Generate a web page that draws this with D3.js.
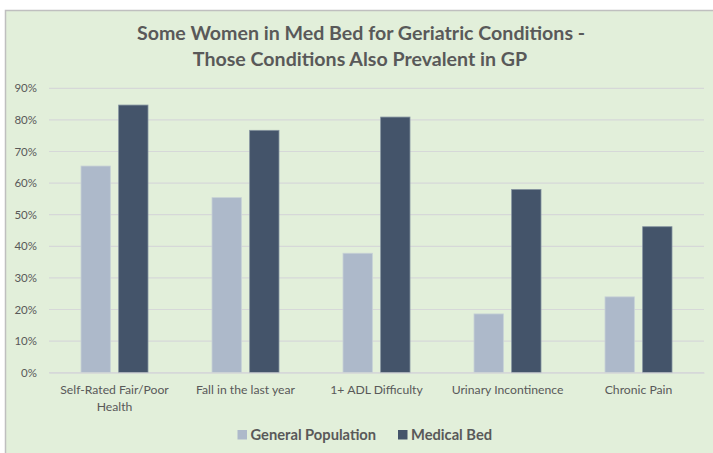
<!DOCTYPE html>
<html>
<head>
<meta charset="utf-8">
<script src="https://cdn.jsdelivr.net/npm/d3@7"></script>
<style>
  body { margin: 0; background: #fff; }
  text { font-family: Lato, "Open Sans", sans-serif; fill: #595959; }
</style>
</head>
<body>
<svg id="chart" width="713" height="453"></svg>
<script>
// data
var categories = ["Self-Rated Fair/Poor Health", "Fall in the last year", "1+ ADL Difficulty", "Urinary Incontinence", "Chronic Pain"]
var series = ["General Population", "Medical Bed"]
var generalPopulation = [0.654, 0.554, 0.378, 0.186, 0.240]
var medicalBed = [0.847, 0.767, 0.809, 0.580, 0.462]
var yTicks = [0, 0.1, 0.2, 0.3, 0.4, 0.5, 0.6, 0.7, 0.8, 0.9]

var values = [generalPopulation, medicalBed]
var color = d3.scaleOrdinal().domain(series).range(["#adb9ca", "#44546a"])
var edge = d3.scaleOrdinal().domain(series).range(["#c7d2d6", "#8593a0"])

var svg = d3.select("#chart")

// chart area background with the left/top border
svg.append("rect")
  .attr("x", 5.5).attr("y", 10.5)
  .attr("width", 713).attr("height", 453)
  .attr("fill", "#e2efda")
svg.append("path")
  .attr("d", "M5.5,453V10.5H713")
  .attr("fill", "none")
  .attr("stroke", "#bfbfbf")
  .attr("stroke-width", 1.5)

// title
svg.append("text")
  .attr("x", 361).attr("y", 40)
  .attr("text-anchor", "middle")
  .style("font-size", "19.6px").style("font-weight", "bold")
  .text("Some Women in Med Bed for Geriatric Conditions -")
svg.append("text")
  .attr("x", 360).attr("y", 65.5)
  .attr("text-anchor", "middle")
  .style("font-size", "19.6px").style("font-weight", "bold")
  .text("Those Conditions Also Prevalent in GP")

var x = d3.scaleBand().domain(categories).range([49, 704])
var x1 = d3.scaleBand().domain(series)
  .range([x.bandwidth() / 2 - 33.5, x.bandwidth() / 2 + 33.5])
  .paddingInner(0.22)
var y = d3.scaleLinear().domain([0, 0.9]).range([372.7, 88.3])

// gridlines
svg.append("g")
  .selectAll("line")
  .data(yTicks)
  .enter()
  .append("line")
    .attr("x1", 49).attr("x2", 704)
    .attr("y1", function(d){ return y(d)})
    .attr("y2", function(d){ return y(d)})
    .attr("stroke", "#d6d8d8")
    .attr("stroke-width", 1.2)

// y axis labels
var yAxis = svg.append("g")
  .attr("transform", "translate(44,0)")
  .call(d3.axisLeft(y).tickValues(yTicks).tickFormat(d3.format(".0%")).tickSize(0).tickPadding(7))
yAxis.select(".domain").remove()
yAxis.selectAll("text")
  .style("font-size", "11.5px")
  .style("font-family", "Lato, sans-serif")
  .attr("fill", "#595959")

// bars
var groups = svg.append("g")
  .selectAll("g")
  .data(categories)
  .enter()
  .append("g")
    .attr("transform", function(d){ return "translate(" + x(d) + ",0)"})

groups.selectAll("rect")
  .data(function(d, i){ return series.map(function(s, j){ return {key: s, value: values[j][i]} }) })
  .enter()
  .append("rect")
    .attr("x", function(d){ return x1(d.key)})
    .attr("y", function(d){ return y(d.value)})
    .attr("width", x1.bandwidth())
    .attr("height", function(d){ return y(0) - y(d.value)})
    .attr("fill", function(d){ return color(d.key)})
    .attr("stroke", function(d){ return edge(d.key)})
    .attr("stroke-width", 0.8)

// category labels
var xAxis = svg.append("g")
  .attr("transform", "translate(0," + y(0) + ")")
  .call(d3.axisBottom(x).tickSize(0).tickPadding(0))
xAxis.select(".domain").attr("stroke", "#d6d8d8").attr("stroke-width", 1.2)
xAxis.selectAll("text").remove()
xAxis.selectAll(".tick")
  .append("text")
    .attr("text-anchor", "middle")
    .style("font-size", "12.2px")
    .each(function(d){
      var lines = d === "Self-Rated Fair/Poor Health" ? ["Self-Rated Fair/Poor", "Health"] : [d]
      var t = d3.select(this)
      lines.forEach(function(l, k){
        t.append("tspan").attr("x", 0).attr("y", 21.5 + k * 17).text(l)
      })
    })

// legend
var legendX = [237.5, 398]
var legend = svg.append("g")
  .selectAll("g")
  .data(series)
  .enter()
  .append("g")
    .attr("transform", function(d, i){ return "translate(" + legendX[i] + ",430)"})
legend.append("rect")
  .attr("width", 9.5).attr("height", 9.5)
  .attr("fill", function(d){ return color(d)})
legend.append("text")
  .attr("x", 13).attr("y", 10)
  .style("font-size", "14.7px")
  .style("font-weight", "bold")
  .text(function(d){ return d})
</script>
</body>
</html>
